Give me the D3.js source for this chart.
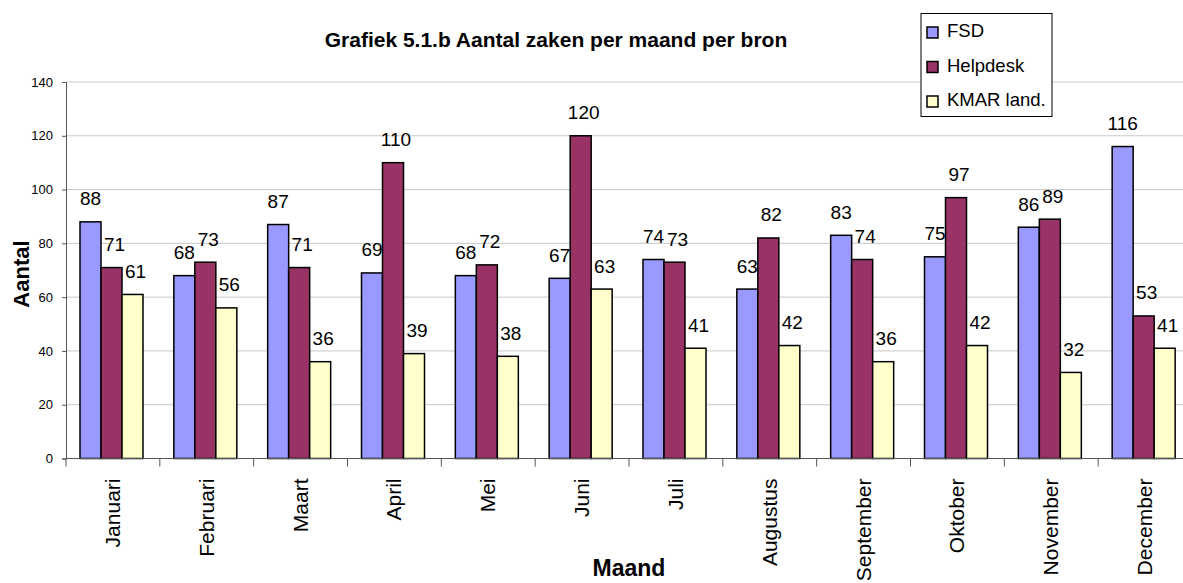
<!DOCTYPE html>
<html>
<head>
<meta charset="utf-8">
<script src="https://cdn.jsdelivr.net/npm/d3@7"></script>
<style>
body { margin: 0; background: #fff; }
text { font-family: "Liberation Sans", Arial, sans-serif; }
</style>
</head>
<body>
<div id="chart"></div>
<script>
var months = ["Januari","Februari","Maart","April","Mei","Juni","Juli","Augustus","September","Oktober","November","December"];
var series = ["FSD","Helpdesk","KMAR land."];
var fsd      = [88, 68, 87, 69, 68, 67, 74, 63, 83, 75, 86, 116];
var helpdesk = [71, 73, 71, 110, 72, 120, 73, 82, 74, 97, 89, 53];
var kmar     = [61, 56, 36, 39, 38, 63, 41, 42, 36, 42, 32, 41];
var yTicks = [0, 20, 40, 60, 80, 100, 120, 140];
var colors = ["#9999ff", "#993366", "#ffffcc"];

var values = [fsd, helpdesk, kmar];
var rows = [];
months.forEach((m, i) => {
    series.forEach((s, j) => {
	rows.push({month: m, serie: s, value: values[j][i], idx: j});
    });
});

var W = 1183, H = 583;
var svg = d3.select("#chart").append("svg")
    .attr("width", W).attr("height", H);

var x0 = d3.scaleBand(months, [66, 1192]);
var x1 = d3.scaleBand(series, [14, 77]);
var y = d3.scaleLinear([0, 140], [458.5, 82]);

// gridlines
svg.append("g")
    .selectAll("line")
    .data(yTicks.filter(d => d > 0))
    .join("line")
    .attr("x1", 66).attr("x2", W)
    .attr("y1", d => y(d)).attr("y2", d => y(d))
    .style("stroke", "#c8c8c8")
    .style("stroke-width", 1);

// y axis
var yAxis = svg.append("g")
    .attr("transform", "translate(66,0)")
    .call(d3.axisLeft(y).tickValues(yTicks).tickSize(4).tickPadding(9));
yAxis.select(".domain").style("stroke", "#555");
yAxis.selectAll(".tick line").style("stroke", "#555");
yAxis.selectAll("text")
    .style("font-family", "Liberation Sans, Arial, sans-serif")
    .style("font-size", "13px").style("fill", "#000");

// bars
svg.append("g")
    .selectAll("rect")
    .data(rows)
    .join("rect")
    .attr("x", d => x0(d.month) + x1(d.serie))
    .attr("y", d => y(d.value))
    .attr("width", x1.bandwidth())
    .attr("height", d => y(0) - y(d.value))
    .style("fill", d => colors[d.idx])
    .style("stroke", "#000")
    .style("stroke-width", 1.5);

// value labels
svg.append("g")
    .selectAll("text")
    .data(rows)
    .join("text")
    .attr("x", d => x0(d.month) + x1(d.serie) + x1.bandwidth()/2 + (d.idx == 0 ? 0 : 3))
    .attr("y", d => y(d.value) - 16.5)
    .attr("text-anchor", "middle")
    .style("font-size", "19px")
    .text(d => d.value);

// x axis
var xAxis = svg.append("g")
    .attr("transform", "translate(0," + y(0) + ")");
xAxis.append("line")
    .attr("x1", 66).attr("x2", W)
    .style("stroke", "#555");
xAxis.selectAll(".tk")
    .data(months)
    .join("line")
    .attr("class", "tk")
    .attr("x1", d => x0(d)).attr("x2", d => x0(d))
    .attr("y1", 0).attr("y2", 8)
    .style("stroke", "#555");
xAxis.selectAll(".lbl")
    .data(months)
    .join("text")
    .attr("class", "lbl")
    .attr("transform", d => "translate(" + (x0(d) + x0.bandwidth()/2 + 7) + ",20) rotate(-90)")
    .attr("text-anchor", "end")
    .style("font-size", "21px")
    .text(d => d);

// titles
svg.append("text")
    .attr("x", 556).attr("y", 47)
    .attr("text-anchor", "middle")
    .style("font-size", "21px").style("font-weight", "bold")
    .text("Grafiek 5.1.b Aantal zaken per maand per bron");
svg.append("text")
    .attr("transform", "translate(29,274) rotate(-90)")
    .attr("text-anchor", "middle")
    .style("font-size", "22px").style("font-weight", "bold")
    .text("Aantal");
svg.append("text")
    .attr("x", 629).attr("y", 576)
    .attr("text-anchor", "middle")
    .style("font-size", "23px").style("font-weight", "bold")
    .text("Maand");

// legend
var lg = svg.append("g").attr("transform", "translate(921,13.5)");
lg.append("rect")
    .attr("width", 131).attr("height", 103)
    .style("fill", "#fff").style("stroke", "#000");
var item = lg.selectAll(".item")
    .data(series)
    .join("g")
    .attr("class", "item")
    .attr("transform", (d, i) => "translate(6," + (13.5 + i * 34.5) + ")");
item.append("rect")
    .attr("width", 11).attr("height", 11)
    .style("fill", (d, i) => colors[i])
    .style("stroke", "#000").style("stroke-width", 1.5);
item.append("text")
    .attr("x", 20).attr("y", 10)
    .style("font-size", "18.5px")
    .text(d => d);
</script>
</body>
</html>
